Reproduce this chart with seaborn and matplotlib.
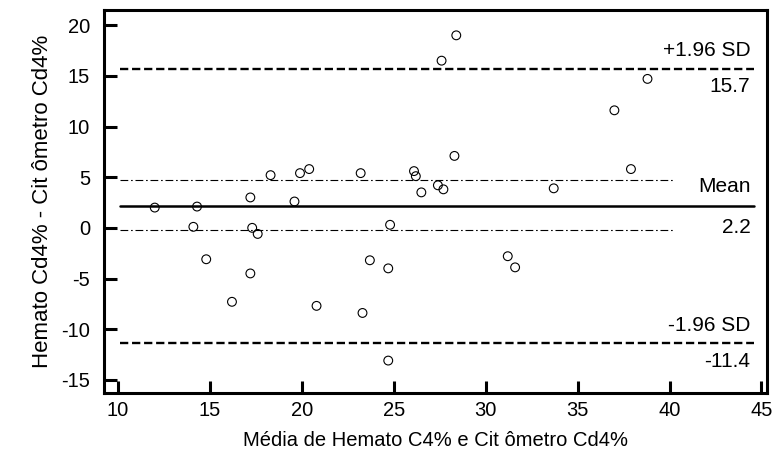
import numpy as np
import pandas as pd
import matplotlib
matplotlib.use("Agg")
import matplotlib.pyplot as plt
import seaborn as sns

# ----------------------------
# Data
# ----------------------------

mean_vals = [12.0, 14.3, 14.1, 17.2, 17.3, 17.6, 18.3, 19.6, 19.9, 20.4,
             23.2, 24.8, 26.1, 26.2, 26.5, 27.4, 27.7, 14.8, 17.2, 16.2,
             20.8, 23.7, 24.7, 23.3, 24.7, 28.4, 27.6, 38.8, 37.0, 28.3,
             37.9, 33.7, 31.2, 31.6]
diff_vals = [2.0, 2.1, 0.1, 3.0, 0.0, -0.6, 5.2, 2.6, 5.4, 5.8,
             5.4, 0.3, 5.6, 5.1, 3.5, 4.2, 3.8, -3.1, -4.5, -7.3,
             -7.7, -3.2, -4.0, -8.4, -13.1, 19.0, 16.5, 14.7, 11.6, 7.1,
             5.8, 3.9, -2.8, -3.9]

mean_diff = 2.2
upper_loa = 15.7
lower_loa = -11.4
ci_upper = 4.7
ci_lower = -0.2

ref_labels = ["+1.96 SD", "15.7", "Mean", "2.2", "-1.96 SD", "-11.4"]
x_ticks = [10, 15, 20, 25, 30, 35, 40, 45]
y_ticks = [-15, -10, -5, 0, 5, 10, 15, 20]

df = pd.DataFrame({"media": mean_vals, "diff": diff_vals})

# ----------------------------
# Style
# ----------------------------

sns.set_style("white")
plt.rcParams["font.family"] = ["Liberation Sans", "DejaVu Sans"]
plt.rcParams["axes.unicode_minus"] = False
plt.rcParams["text.color"] = "black"
plt.rcParams["axes.labelcolor"] = "black"

fig = plt.figure(figsize=(7.74, 4.62), dpi=100)
ax = fig.add_axes([104 / 774, 1 - 393 / 462, 663 / 774, 383 / 462])

# ----------------------------
# Reference lines
# ----------------------------

x0, x1 = 10.1, 44.6
ax.plot([x0, x1], [mean_diff, mean_diff], color="black", lw=1.8)
for v in [upper_loa, lower_loa]:
    ax.plot([x0, x1], [v, v], color="black", lw=1.7, dashes=(3.5, 1.6))
for v in [ci_upper, ci_lower]:
    ax.plot([x0, 40.3], [v, v], color="black", lw=0.8, dashes=(7, 2.5, 1.5, 2.5))

# ----------------------------
# Scatter
# ----------------------------

sns.scatterplot(data=df, x="media", y="diff", ax=ax, s=40,
                facecolors="none", edgecolor="black", linewidth=0.8)

# ----------------------------
# Labels on the lines
# ----------------------------

levels = [upper_loa, upper_loa, mean_diff, mean_diff, lower_loa, lower_loa]
offsets = [13, -13, 14, -16, 13, -13]
for lab, lev, off in zip(ref_labels, levels, offsets):
    ax.annotate(lab, xy=(44.4, lev), xytext=(0, off), textcoords="offset points",
                ha="right", va="center", fontsize=15, color="black")

ax.set_xlim(9.24, 45.3)
ax.set_ylim(-16.3, 21.5)
ax.set_xticks(x_ticks)
ax.set_yticks(y_ticks)
ax.set_xlabel("Média de Hemato C4% e Cit ômetro Cd4%", fontsize=14.5, labelpad=8)
ax.set_ylabel("Hemato Cd4% - Cit ômetro Cd4%", fontsize=16, labelpad=6)

for s in ax.spines.values():
    s.set_linewidth(2.2)
    s.set_color("black")
ax.tick_params(direction="in", length=9, width=2.2, colors="black",
               labelsize=14.5, bottom=True, left=True)
ax.tick_params(axis="x", pad=6)
ax.tick_params(axis="y", pad=10)

fig.savefig("out.png", dpi=100)
